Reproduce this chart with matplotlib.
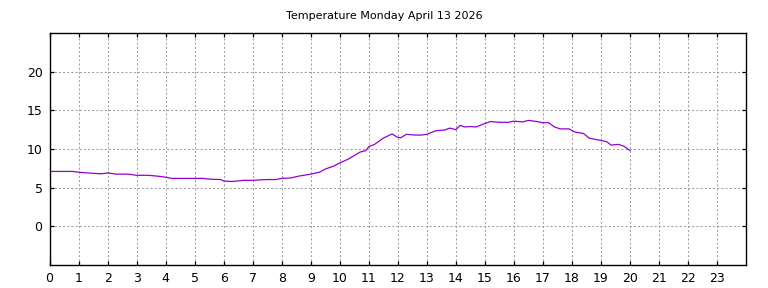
import numpy as np
import matplotlib.pyplot as plt

# hourly-ish temperature readings (hour of day, deg C)
hours = [0.0, 0.8, 1.0, 1.5, 1.8, 2.0, 2.3, 2.7, 3.0, 3.4, 3.7, 4.0, 4.2,
         4.6, 5.0, 5.3, 5.5, 5.9, 6.0, 6.3, 6.7, 7.0, 7.5, 7.8, 8.0, 8.3,
         8.6, 9.0, 9.3, 9.5, 9.8, 10.0, 10.3, 10.7, 10.9, 11.0, 11.2, 11.5,
         11.8, 12.0, 12.1, 12.3, 12.6, 12.8, 13.0, 13.3, 13.6, 13.8, 14.0,
         14.15, 14.3, 14.5, 14.7, 15.0, 15.2, 15.5, 15.8, 16.0, 16.3, 16.5,
         16.8, 17.0, 17.2, 17.4, 17.6, 17.9, 18.1, 18.4, 18.6, 19.0, 19.2,
         19.35, 19.6, 19.8, 20.0]
temps = [7.1, 7.1, 7.0, 6.85, 6.8, 6.9, 6.75, 6.75, 6.6, 6.6, 6.5, 6.35, 6.2,
         6.2, 6.2, 6.2, 6.1, 6.05, 5.85, 5.8, 5.95, 5.95, 6.05, 6.05, 6.2, 6.25,
         6.5, 6.75, 7.0, 7.4, 7.8, 8.2, 8.7, 9.6, 9.8, 10.3, 10.6, 11.4,
         11.95, 11.5, 11.45, 11.9, 11.8, 11.8, 11.9, 12.35, 12.45, 12.7, 12.5,
         13.05, 12.85, 12.9, 12.85, 13.3, 13.55, 13.45, 13.45, 13.6, 13.5, 13.7,
         13.55, 13.4, 13.4, 12.85, 12.6, 12.6, 12.2, 12.0, 11.4, 11.1, 10.95,
         10.5, 10.6, 10.35, 9.8]

xticks = list(range(0, 24))
yticks = [0, 5, 10, 15, 20]

fig = plt.figure(figsize=(7.68, 2.88), dpi=100)
ax = fig.add_axes([0.0645, 0.0799, 0.9069, 0.8055])

ax.plot(hours, temps, color="#9400d3", linewidth=0.9)

ax.set_xlim(0, 24)
ax.set_ylim(-5, 25)
ax.set_xticks(xticks)
ax.set_yticks(yticks)
ax.tick_params(direction="in", top=True, right=True, labelsize=9, length=3,
               width=0.9, pad=5)
ax.grid(True, color="#a0a0a0", linestyle=(0, (2, 2)), linewidth=0.75)
for s in ax.spines.values():
    s.set_linewidth(1.0)

fig.text(0.5, 1 - 16 / 288, "Temperature Monday April 13 2026",
         ha="center", va="center", fontsize=8)

fig.savefig("out.png", dpi=100)
